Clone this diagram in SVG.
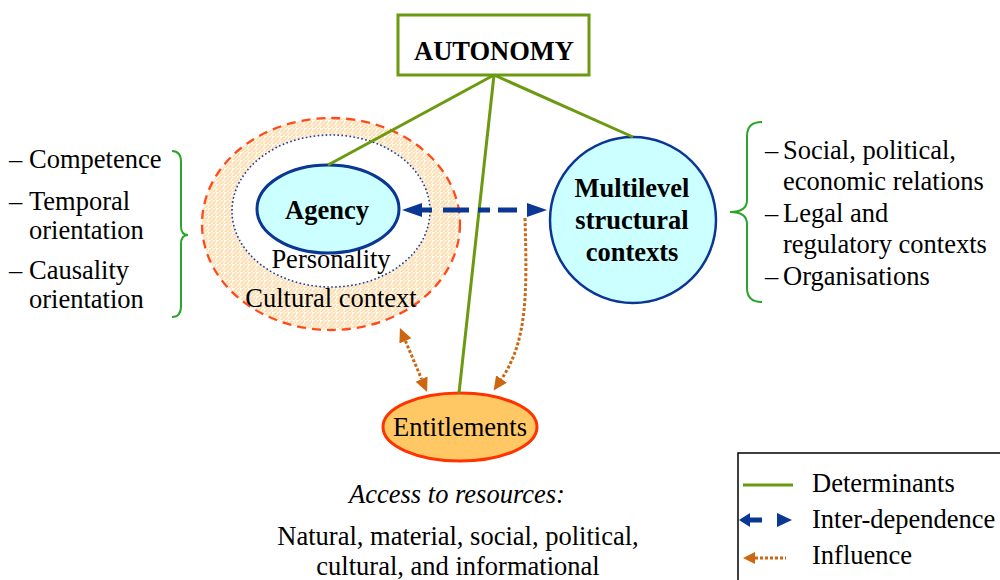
<svg xmlns="http://www.w3.org/2000/svg" width="1000" height="580" viewBox="0 0 1000 580">
  <defs>
    <!-- light orange weave fill for the cultural context ring -->
    <pattern id="weave" width="8" height="8" patternUnits="userSpaceOnUse">
      <rect width="8" height="8" fill="#fffaf2"/>
      <path d="M0,8 h2 v-2 h2 v-2 h2 v-2 h2 v-2 M4,8 h2 v-2 h2 M0,4 h2 v-2 h2 v-2" fill="none" stroke="#fbd49c" stroke-width="1.1"/>
    </pattern>
    <marker id="blueHead" markerUnits="userSpaceOnUse" markerWidth="22" markerHeight="16" viewBox="0 -8 22 16" refX="0" refY="0" orient="auto-start-reverse">
      <path d="M0,-7 L20,0 L0,7 z" fill="#0a3694"/>
    </marker>
    <marker id="orangeHead" markerUnits="userSpaceOnUse" markerWidth="16" markerHeight="16" viewBox="0 -8 16 16" refX="0" refY="0" orient="auto-start-reverse">
      <path d="M0,-6.5 L14,0 L0,6.5 z" fill="#cc6611"/>
    </marker>
  </defs>
  <style>
    text { font-family: "Liberation Serif", "Times New Roman", serif; font-size: 26.5px; fill: #000; }
    .b { font-weight: bold; }
    .c { text-anchor: middle; }
    .det { stroke: #6b9a10; stroke-width: 3; fill: none; }
    .brace { stroke: #2aa52a; stroke-width: 2; fill: none; }
    .dep { stroke: #0a3694; stroke-width: 5; fill: none; }
    .inf { stroke: #cc6611; stroke-width: 3; stroke-dasharray: 3 2; fill: none; }
  </style>

  <rect width="1000" height="580" fill="#fff"/>

  <!-- Cultural context with personality inside -->
  <g id="cultural-context">
    <ellipse cx="331" cy="224" rx="129" ry="106" fill="url(#weave)" stroke="#ff4a1a" stroke-width="2.3" stroke-dasharray="9 6"/>
    <ellipse cx="331" cy="211" rx="99" ry="76" fill="#fff" stroke="#1a3c9c" stroke-width="1.6" stroke-dasharray="1.6 2.4"/>
    <text class="c" x="331" y="268">Personality</text>
    <text class="c" x="331" y="307">Cultural context</text>
  </g>

  <g id="agency">
    <ellipse cx="328" cy="209" rx="71" ry="44" fill="#ccffff" stroke="#0a3694" stroke-width="3"/>
    <text class="c b" x="327" y="219">Agency</text>
  </g>

  <g id="multilevel">
    <circle cx="633" cy="220" r="83" fill="#ccffff" stroke="#0a3694" stroke-width="2.5"/>
    <text class="c b" x="632" y="197">Multilevel</text>
    <text class="c b" x="632" y="229">structural</text>
    <text class="c b" x="632" y="261">contexts</text>
  </g>

  <g id="entitlements">
    <ellipse cx="460" cy="427" rx="77" ry="34" fill="#ffc864" stroke="#ff3300" stroke-width="3"/>
    <text class="c" x="460" y="436">Entitlements</text>
  </g>

  <g id="autonomy">
    <rect x="398" y="15" width="191" height="60" fill="#fff" stroke="#6b9a10" stroke-width="3"/>
    <text class="c b" x="494" y="60">AUTONOMY</text>
  </g>

  <!-- Individual-level attributes -->
  <g id="agency-attributes">
    <path class="brace" d="M172,151 Q181,151 181,162 V226 Q181,235 188,235 Q181,235 181,244 V306 Q181,317 172,317"/>
    <text x="9" y="168">–</text><text x="29" y="168">Competence</text>
    <text x="9" y="210">–</text><text x="29" y="210">Temporal</text>
    <text x="29" y="239">orientation</text>
    <text x="9" y="279">–</text><text x="29" y="279">Causality</text>
    <text x="29" y="308">orientation</text>
  </g>

  <!-- Structural contexts -->
  <g id="structure-attributes">
    <path class="brace" d="M762,122 Q747,122 747,136 V200 Q747,212 730,212 Q747,212 747,224 V288 Q747,302 762,302"/>
    <text x="765" y="159">–</text><text x="783" y="159">Social, political,</text>
    <text x="783" y="190">economic relations</text>
    <text x="765" y="222">–</text><text x="783" y="222">Legal and</text>
    <text x="783" y="253">regulatory contexts</text>
    <text x="765" y="285">–</text><text x="783" y="285">Organisations</text>
  </g>

  <!-- Resource access note -->
  <g id="resources">
    <text class="c" x="457" y="503" font-style="italic">Access to resources:</text>
    <text class="c" x="458" y="545">Natural, material, social, political,</text>
    <text class="c" x="458" y="575">cultural, and informational</text>
  </g>

  <g id="connectors">
    <!-- determinants -->
    <line class="det" x1="494" y1="75" x2="328" y2="165"/>
    <line class="det" x1="494" y1="75" x2="459" y2="393"/>
    <line class="det" x1="494" y1="75" x2="633" y2="137"/>
    <!-- inter-dependence -->
    <line class="dep" x1="422" y1="210" x2="527" y2="210" stroke-dasharray="10 11 26 9 12 8 19 10" marker-start="url(#blueHead)" marker-end="url(#blueHead)"/>
    <!-- influence -->
    <line class="inf" x1="405.4" y1="340.9" x2="421.6" y2="379.1" marker-start="url(#orangeHead)" marker-end="url(#orangeHead)"/>
    <path class="inf" d="M525,218 C527,290 528,340 501.5,379" marker-end="url(#orangeHead)"/>
  </g>

  <g id="legend">
    <rect x="738" y="453" width="270" height="140" fill="#fff" stroke="#000" stroke-width="1.5"/>
    <line class="det" x1="743" y1="485" x2="793" y2="485"/>
    <text x="812" y="492">Determinants</text>
    <path d="M739,520 L750,513 L750,527 z" fill="#0a3694"/>
    <line class="dep" x1="749" y1="520" x2="762" y2="520"/>
    <path d="M777,513 L792,520 L777,527 z" fill="#0a3694"/>
    <text x="812" y="528">Inter-dependence</text>
    <path d="M743,558 L755,552 L755,564 z" fill="#cc6611"/>
    <line class="inf" x1="755" y1="558" x2="786" y2="558"/>
    <text x="812" y="564">Influence</text>
  </g>
</svg>
